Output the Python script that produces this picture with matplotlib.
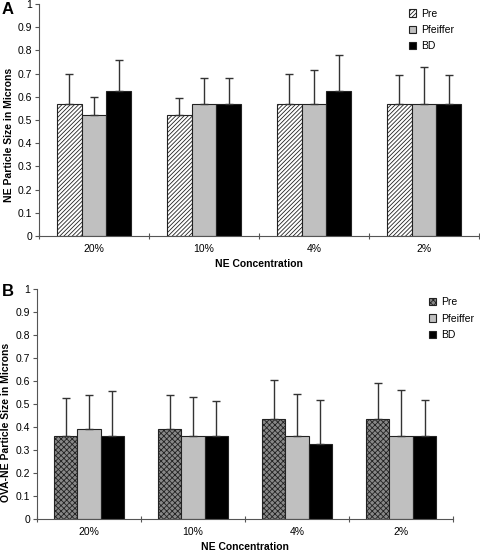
import numpy as np
import matplotlib
matplotlib.use("Agg")
import matplotlib.pyplot as plt

plt.rcParams['font.family'] = ['Liberation Sans', 'DejaVu Sans']
plt.rcParams['hatch.linewidth'] = 0.6

categories = ['20%', '10%', '4%', '2%']
series = ['Pre', 'Pfeiffer', 'BD']

# panel A: NE particle size
a_pre = [0.57, 0.52, 0.57, 0.57]
a_pfeiffer = [0.52, 0.57, 0.57, 0.57]
a_bd = [0.625, 0.57, 0.625, 0.57]
a_pre_err = [0.13, 0.075, 0.13, 0.125]
a_pfeiffer_err = [0.08, 0.11, 0.145, 0.16]
a_bd_err = [0.135, 0.11, 0.155, 0.125]

# panel B: OVA-NE particle size
b_pre = [0.36, 0.39, 0.435, 0.435]
b_pfeiffer = [0.39, 0.36, 0.36, 0.36]
b_bd = [0.36, 0.36, 0.325, 0.36]
b_pre_err = [0.165, 0.15, 0.17, 0.155]
b_pfeiffer_err = [0.15, 0.17, 0.185, 0.2]
b_bd_err = [0.195, 0.155, 0.195, 0.16]


def draw_panel(ax, vals, errs, pre_style, ylabel, ylab_pos):
    x = np.arange(len(categories)) + 0.5
    w = 0.225
    styles = [pre_style,
              dict(facecolor='#c0c0c0', hatch=None),
              dict(facecolor='black', hatch=None)]
    handles = []
    for i, (v, e, st) in enumerate(zip(vals, errs, styles)):
        xs = x + (i - 1) * w
        b = ax.bar(xs, v, w, facecolor=st['facecolor'], hatch=st['hatch'],
                   edgecolor='#222222', linewidth=0.8, label=series[i], zorder=2)
        ax.errorbar(xs, v, yerr=[np.zeros(len(v)), e], fmt='none',
                    ecolor='#333333', elinewidth=1, capsize=3, capthick=1, zorder=3)
        handles.append(b)
    ax.set_xlim(0, 4)
    ax.set_ylim(0, 1)
    ax.set_yticks(np.arange(0, 1.01, 0.1))
    ax.set_yticklabels(['0'] + ['%.1f' % t for t in np.arange(0.1, 0.95, 0.1)] + ['1'])
    ax.set_xticks([0, 1, 2, 3, 4])
    ax.set_xticklabels([])
    ax.set_xticks(x, minor=True)
    ax.set_xticklabels(categories, minor=True)
    ax.tick_params(axis='x', which='minor', length=0, pad=6, labelsize=7.5)
    ax.tick_params(axis='x', which='major', length=4, direction='inout', color='#555555')
    ax.tick_params(axis='y', length=3, color='#555555', labelsize=7.5, pad=2)
    for s in ['top', 'right']:
        ax.spines[s].set_visible(False)
    for s in ['left', 'bottom']:
        ax.spines[s].set_color('#555555')
    ax.set_ylabel(ylabel, fontsize=7.5, fontweight='bold')
    ax.yaxis.set_label_coords(ylab_pos[0], ylab_pos[1])
    ax.set_xlabel('NE Concentration', fontsize=7.5, fontweight='bold', labelpad=3)
    return handles


fig = plt.figure(figsize=(4.8, 5.54), dpi=100)
ax1 = fig.add_axes([0.081, 0.574, 0.917, 0.419])
ax2 = fig.add_axes([0.077, 0.063, 0.867, 0.415])

h1 = draw_panel(ax1, [a_pre, a_pfeiffer, a_bd],
                [a_pre_err, a_pfeiffer_err, a_bd_err],
                dict(facecolor='white', hatch='////////'),
                'NE Particle Size in Microns', (-0.057, 0.435))
h2 = draw_panel(ax2, [b_pre, b_pfeiffer, b_bd],
                [b_pre_err, b_pfeiffer_err, b_bd_err],
                dict(facecolor='#888888', hatch='xxxxxx'),
                'OVA-NE Particle Size in Microns', (-0.063, 0.42))

fig.text(2 / 480, 1 - 9 / 554, 'A', fontsize=12, fontweight='bold',
         ha='left', va='center')
fig.text(2 / 480, 1 - 291 / 554, 'B', fontsize=12, fontweight='bold',
         ha='left', va='center')

ax1.legend(handles=h1, loc='upper left', bbox_to_anchor=(0.82, 1.02),
           frameon=False, fontsize=7.5, handlelength=0.7, handleheight=0.7,
           handletextpad=0.4, labelspacing=0.6)
ax2.legend(handles=h2, loc='upper left', bbox_to_anchor=(0.92, 1.005),
           frameon=False, fontsize=7.5, handlelength=0.7, handleheight=0.7,
           handletextpad=0.4, labelspacing=0.6)

fig.savefig('out.png', dpi=100)
